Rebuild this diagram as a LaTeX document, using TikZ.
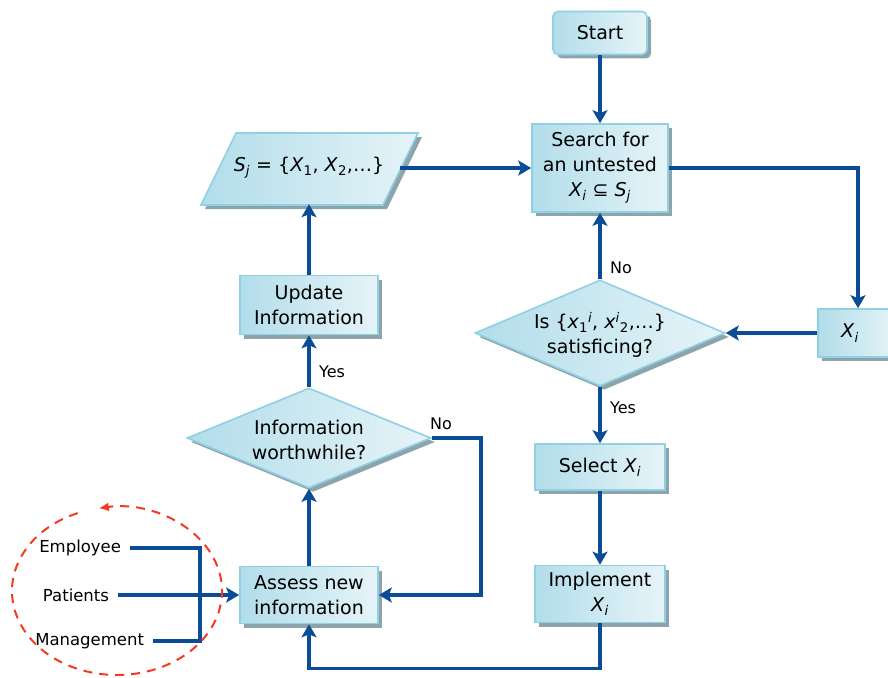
\documentclass[tikz,border=0pt]{standalone}
\usepackage{fontspec}
\setmainfont{DejaVu Sans}
\usetikzlibrary{shapes.geometric,shadows,arrows.meta}

\definecolor{boxline}{HTML}{8FD0E2}
\definecolor{boxdark}{HTML}{B2DDEA}
\definecolor{boxlight}{HTML}{E6F4F8}
\definecolor{shadowgrey}{HTML}{8EA4AC}
\definecolor{flow}{HTML}{0B4C97}
\definecolor{ring}{HTML}{F5391E}

% italic variable with italic subscript
\newcommand{\vx}[2]{\textit{#1}\textsubscript{\textit{#2}}}

\begin{document}
\begin{tikzpicture}[x=1pt,y=-1pt,
  shape base/.style={draw=boxline, line width=1.6pt,
    left color=boxdark, right color=boxlight,
    drop shadow={shadow xshift=4pt, shadow yshift=-4pt, fill=shadowgrey, opacity=1},
    inner sep=0pt},
  box/.style={shape base, rectangle, align=center, font=\fontsize{19}{25}\selectfont},
  dia/.style={shape base, diamond},
  dtext/.style={align=center, font=\fontsize{19}{25}\selectfont, inner sep=0pt},
  tag/.style={font=\fontsize{16}{20}\selectfont, inner sep=0pt},
  side/.style={font=\fontsize{16.5}{20}\selectfont, inner sep=0pt, outer xsep=9pt, anchor=east},
  arr/.style={draw=flow, line width=3.4pt, -{Stealth[length=13pt,width=15pt,inset=3pt]}},
  wire/.style={draw=flow, line width=3.4pt},
  loop/.style={draw=ring, line width=2pt, dash pattern=on 9pt off 7pt,
    -{Latex[length=10pt,width=9pt]}}]

\useasboundingbox (0,0) rectangle (888,677);
\clip (0,0) rectangle (888,677);

% process boxes
\node[box, rounded corners=5pt, minimum width=94pt, minimum height=43pt] (start) at (600,33) {Start};
\node[box, minimum width=136pt, minimum height=88pt] (search) at (600,168)
  {Search for\\an untested\\\vx{X}{i} ⊆ \vx{S}{j}};
% data set (parallelogram) with its label node
\path[shape base] (201,205) -- (236,133) -- (418,133) -- (383,205) -- cycle;
\node[dtext, minimum width=182pt, minimum height=72pt] (sj) at (309,168)
  {\vx{S}{j} = \{\textit{X}\textsubscript{1}, \textit{X}\textsubscript{2},…\}};
\node[box, minimum width=80pt, minimum height=48pt] (xi) at (858,333) {\hspace*{-16pt}\vx{X}{i}};
\node[box, minimum width=130pt, minimum height=46pt] (select) at (600,467) {Select \vx{X}{i}};
\node[box, minimum width=130pt, minimum height=57pt] (impl) at (600,594) {Implement\\\vx{X}{i}};
\node[box, minimum width=138pt, minimum height=57pt] (assess) at (309,595) {Assess new\\information};
\node[box, minimum width=138pt, minimum height=59pt] (update) at (309,305) {Update\\Information};

% decisions
\node[dia, minimum width=250pt, minimum height=106pt] (sat) at (600,333) {};
\node[dtext] (sattext) at (600,335)
  {Is \{\textit{x}\textsubscript{1}\textsuperscript{\textit{i}}, \textit{x}\textsuperscript{\textit{i}}\textsubscript{2},…\}\\satisficing?};
\node[dia, minimum width=244pt, minimum height=100pt] (worth) at (309,438) {};
\node[dtext] (worthtext) at (309,440) {Information\\worthwhile?};

% sources of information
\node[side] (emp) at (130,548) {Employee};
\node[side] (pat) at (118,595) {Patients};
\node[side] (mgmt) at (153,641) {Management};
\coordinate (join) at (200,595);

% branch labels
\node[tag] (no1) at (621,268) {No};
\node[tag] (yes1) at (623,408) {Yes};
\node[tag] (no2) at (441,424) {No};
\node[tag] (yes2) at (332,372) {Yes};

% connectors
\draw[arr] (start.south) -- (search.north);
\draw[arr] (sj.east) -- (search.west);
\draw[arr] (search.east) -| (xi.north);
\draw[arr] (xi.west) -- (sat.east);
\draw[arr] (sat.north) -- (search.south);
\draw[arr] (sat.south) -- (select.north);
\draw[arr] (select.south) -- (impl.north);
\draw[arr] (impl.south) -- ++(0,45) -| (assess.south);
\draw[arr] (assess.north) -- (worth.south);
\draw[arr] (worth.east) -- ++(49,0) |- (assess.east);
\draw[arr] (worth.north) -- (update.south);
\draw[arr] (update.north) -- (sj.south);

\draw[wire] (emp.east) -- (emp.east -| join) -- (mgmt.east -| join) -- (mgmt.east);
\draw[arr] (pat.east) -- (assess.west);

% feedback ring around the sources
\draw[loop] ([shift={(-112:105 and 84)}]117,591) arc[start angle=-112, end angle=-460, x radius=105, y radius=84];

\end{tikzpicture}
\end{document}
